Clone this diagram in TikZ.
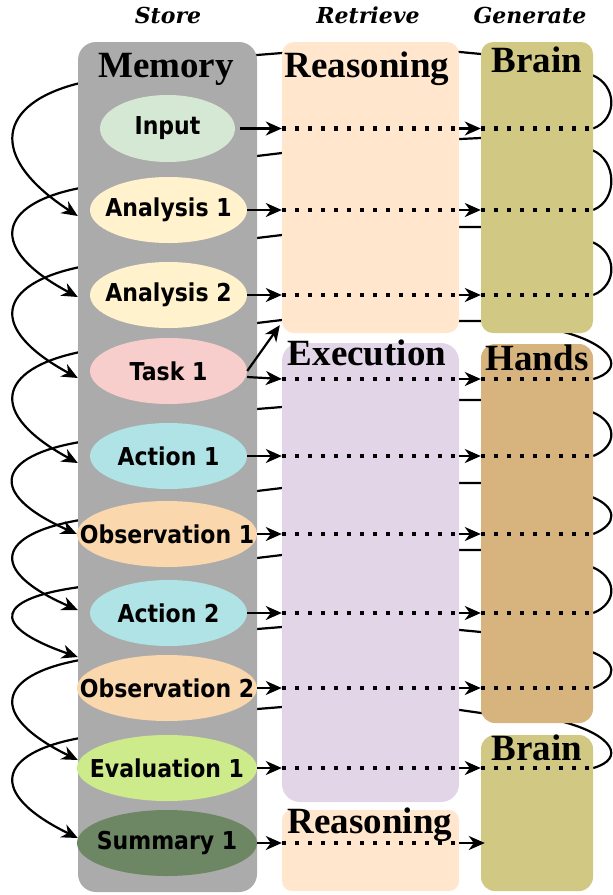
\documentclass[tikz,border=0pt]{standalone}
\usepackage{fontspec}
\setmainfont{Liberation Serif}
\newfontfamily\tagfont{DejaVu Serif}
\newfontfamily\stepfont{DejaVu Sans}
\usetikzlibrary{arrows.meta,positioning,shapes.geometric}

\definecolor{memgray}{HTML}{ABABAB}
\definecolor{reasonpeach}{HTML}{FFE6CC}
\definecolor{execlilac}{HTML}{E1D5E7}
\definecolor{brainolive}{HTML}{D0C883}
\definecolor{handstan}{HTML}{D7B47E}
\definecolor{inputgreen}{HTML}{D5E8D4}
\definecolor{analysisyellow}{HTML}{FFF2CC}
\definecolor{taskred}{HTML}{F8CECC}
\definecolor{actionteal}{HTML}{B0E3E6}
\definecolor{obsorange}{HTML}{FAD7AC}
\definecolor{evalgreen}{HTML}{CDEB8B}
\definecolor{summarygreen}{HTML}{6D8764}

\pgfdeclarelayer{bg}
\pgfsetlayers{bg,main}

% text of an entry does not widen its ellipse
\newcommand{\entry}[1]{\makebox[0pt]{\scalebox{1}[1.12]{#1}}}

\tikzset{
  column/.style={rectangle, rounded corners=12pt, minimum width=112pt, inner sep=0pt},
  coltitle/.style={font=\bfseries\fontsize{37}{37}\selectfont, anchor=base, inner sep=0pt},
  phase/.style={font=\tagfont\bfseries\itshape\fontsize{22}{22}\selectfont, anchor=base, inner sep=0pt},
  stepnode/.style={ellipse, inner sep=0pt, minimum width=157pt, minimum height=66pt,
    font=\stepfont\bfseries\fontsize{22}{22}\selectfont},
  flow/.style={-{Stealth[length=16pt,width=14pt,inset=5pt]}, line width=2.2pt, line join=round},
  dotline/.style={line width=4.5pt, dash pattern=on 4.5pt off 8.5pt}
}

\begin{document}
\begin{tikzpicture}[x=1pt,y=-1pt]
        \useasboundingbox (0,0) rectangle (613,895);

        % Phases
        \node[phase] (store) at (168,23) {Store};
        \node[phase] (retrieve) at (368,23) {Retrieve};
        \node[phase] (generate) at (530,23) {Generate};

        % Columns
        \node[column, fill=memgray, rounded corners=18pt, minimum width=179pt, minimum height=850pt] (memory) at (167.5,467) {};
        \node[column, fill=reasonpeach, minimum width=177pt, minimum height=291pt] (reason1) at (370.5,187.5) {};
        \node[column, fill=execlilac, rounded corners=18pt, minimum width=177pt, minimum height=459pt] (execution) at (370.5,572.5) {};
        \node[column, fill=reasonpeach, rounded corners=10pt, minimum width=177pt, minimum height=81pt] (reason2) at (370.5,850.5) {};
        \node[column, fill=brainolive, minimum height=291pt] (brain1) at (537,187.5) {};
        \node[column, fill=handstan, rounded corners=14pt, minimum height=379pt] (hands) at (537,533.5) {};
        \node[column, fill=brainolive, rounded corners=14pt, minimum height=156pt] (brain2) at (537,813) {};

        % Column titles
        \node[coltitle] (memtitle) at (166,77) {Memory};
        \node[coltitle] (reason1title) at (367,77) {Reasoning};
        \node[coltitle] (brain1title) at (537,72) {Brain};
        \node[coltitle] (exectitle) at (367,365) {Execution};
        \node[coltitle] (handstitle) at (537,370) {Hands};
        \node[coltitle] (brain2title) at (537,760) {Brain};
        \node[coltitle] (reason2title) at (370,833) {Reasoning};

        % Memory entries
        \node[stepnode, fill=inputgreen, minimum width=135pt, minimum height=67pt] (input) at (167.5,128.5) {\entry{Input}};
        \node[stepnode, fill=analysisyellow] (analysis1) at (168.5,210) {\entry{Analysis 1}};
        \node[stepnode, fill=analysisyellow] (analysis2) at (168.5,295) {\entry{Analysis 2}};
        \node[stepnode, fill=taskred] (task1) at (168.5,371) {\entry{Task 1}};
        \node[stepnode, fill=actionteal] (action1) at (168.5,456) {\entry{Action 1}};
        \node[stepnode, fill=obsorange, minimum width=180pt] (obs1) at (167,534) {\entry{Observation 1}};
        \node[stepnode, fill=actionteal] (action2) at (168.5,613) {\entry{Action 2}};
        \node[stepnode, fill=obsorange, minimum width=180pt] (obs2) at (167,688) {\entry{Observation 2}};
        \node[stepnode, fill=evalgreen, minimum width=180pt] (eval1) at (167,768) {\entry{Evaluation 1}};
        \node[stepnode, fill=summarygreen, minimum width=180pt] (summary1) at (167,843) {\entry{Summary 1}};
        \coordinate (taskrow) at ([yshift=-8pt]task1.center);

        % Input row
        \draw[flow] ([xshift=5pt]input.east) -- (input -| reason1.west);
        \draw[dotline] (input -| reason1.west) -- (input -| reason1.east);
        \draw[flow] (input -| reason1.east) -- (input -| brain1.west);
        \draw[dotline] (input -| brain1.west) -- (input -| brain1.east);

        % Analysis rows
        \draw[flow] (analysis1.east) -- (analysis1 -| reason1.west);
        \draw[dotline] (analysis1 -| reason1.west) -- (analysis1 -| reason1.east);
        \draw[flow] (analysis1 -| reason1.east) -- (analysis1 -| brain1.west);
        \draw[dotline] (analysis1 -| brain1.west) -- (analysis1 -| brain1.east);
        \draw[flow] (analysis2.east) -- (analysis2 -| reason1.west);
        \draw[dotline] (analysis2 -| reason1.west) -- (analysis2 -| reason1.east);
        \draw[flow] (analysis2 -| reason1.east) -- (analysis2 -| brain1.west);
        \draw[dotline] (analysis2 -| brain1.west) -- (analysis2 -| brain1.east);

        % Task row, also back to reasoning
        \draw[flow] (task1.east) -- ([shift={(-2pt,8pt)}]reason1.south west);
        \draw[flow] ([yshift=-6pt]task1.east) -- (taskrow -| execution.west);
        \draw[dotline] (taskrow -| execution.west) -- (taskrow -| execution.east);
        \draw[flow] (taskrow -| execution.east) -- (taskrow -| hands.west);
        \draw[dotline] (taskrow -| hands.west) -- (taskrow -| hands.east);

        % Action / observation rows
        \draw[flow] (action1.east) -- (action1 -| execution.west);
        \draw[dotline] (action1 -| execution.west) -- (action1 -| execution.east);
        \draw[flow] (action1 -| execution.east) -- (action1 -| hands.west);
        \draw[dotline] (action1 -| hands.west) -- (action1 -| hands.east);
        \draw[flow] (obs1.east) -- (obs1 -| execution.west);
        \draw[dotline] (obs1 -| execution.west) -- (obs1 -| execution.east);
        \draw[flow] (obs1 -| execution.east) -- (obs1 -| hands.west);
        \draw[dotline] (obs1 -| hands.west) -- (obs1 -| hands.east);
        \draw[flow] (action2.east) -- (action2 -| execution.west);
        \draw[dotline] (action2 -| execution.west) -- (action2 -| execution.east);
        \draw[flow] (action2 -| execution.east) -- (action2 -| hands.west);
        \draw[dotline] (action2 -| hands.west) -- (action2 -| hands.east);
        \draw[flow] (obs2.east) -- (obs2 -| execution.west);
        \draw[dotline] (obs2 -| execution.west) -- (obs2 -| execution.east);
        \draw[flow] (obs2 -| execution.east) -- (obs2 -| hands.west);
        \draw[dotline] (obs2 -| hands.west) -- (obs2 -| hands.east);

        % Evaluation row
        \draw[flow] (eval1.east) -- (eval1 -| execution.west);
        \draw[dotline] (eval1 -| execution.west) -- (eval1 -| execution.east);
        \draw[flow] (eval1 -| execution.east) -- (eval1 -| brain2.west);
        \draw[dotline] (eval1 -| brain2.west) -- (eval1 -| brain2.east);

        % Summary row
        \draw[flow] (summary1.east) -- (summary1 -| reason2.west);
        \draw[dotline] (summary1 -| reason2.west) -- (summary1 -| reason2.east);
        \draw[flow] (summary1 -| reason2.east) -- ([xshift=4pt]summary1 -| brain2.west);

        % Feedback loops, behind the columns
        \begin{pgfonlayer}{bg}
        \draw[flow] (input -| brain1.east) .. controls +(25,-10) and +(25,10) .. (592,75)
            -- (481,54) -- (460,52) -- (282,53) -- (257,55) -- (80,83)
            .. controls +(-82,20) and +(-92,-60) .. ([yshift=-6pt]analysis1 -| memory.west);
        \draw[flow] (analysis1 -| brain1.east) .. controls +(25,-10) and +(25,10) .. (592,150)
            -- (481,138) -- (460,139) -- (282,153) -- (257,156) -- (80,188)
            .. controls +(-82,16) and +(-92,-49) .. ([yshift=-2pt]analysis2 -| memory.west);
        \draw[flow] (analysis2 -| brain1.east) .. controls +(25,-10) and +(25,10) .. (592,242)
            -- (481,227) -- (460,227) -- (282,235) -- (257,238) -- (80,267)
            .. controls +(-82,17) and +(-92,-50) .. ([yshift=-7pt]task1 -| memory.west);
        \draw[flow] (taskrow -| hands.east) .. controls +(32,-9) and +(55,14) .. (560,331)
            -- (481,321) -- (460,321) -- (282,320) -- (257,323) -- (80,352)
            .. controls +(-82,17) and +(-92,-50) .. ([yshift=-7pt]action1 -| memory.west);
        \draw[flow] (action1 -| hands.east) .. controls +(25,-10) and +(25,10) .. (592,412)
            -- (481,400) -- (460,400) -- (282,407) -- (257,409) -- (80,442)
            .. controls +(-82,14) and +(-92,-41) .. (obs1.west);
        \draw[flow] (obs1 -| hands.east) .. controls +(25,-10) and +(25,10) .. (592,497)
            -- (481,483) -- (460,483) -- (282,488) -- (257,491) -- (80,520)
            .. controls +(-82,14) and +(-92,-40) .. ([yshift=3pt]action2 -| memory.west);
        \draw[flow] (action2 -| hands.east) .. controls +(25,-10) and +(25,10) .. (592,567)
            -- (481,550) -- (460,550) -- (282,555) -- (257,558) -- (80,587)
            .. controls +(-82,11) and +(-92,-32) .. ([yshift=31pt]obs2 -| memory.west);
        \draw[flow] (obs2 -| hands.east) .. controls +(25,-10) and +(25,10) .. (592,652)
            -- (481,632) -- (460,630) -- (282,627) -- (257,629) -- (80,660)
            .. controls +(-82,15) and +(-92,-45) .. ([yshift=8pt]eval1 -| memory.west);
        \draw[flow] (eval1 -| brain2.east) .. controls +(32,-9) and +(55,14) .. (560,721)
            -- (481,713) -- (460,710) -- (282,707) -- (257,709) -- (80,738)
            .. controls +(-82,15) and +(-92,-45) .. ([yshift=5pt]summary1 -| memory.west);
        \end{pgfonlayer}
    \end{tikzpicture}
\end{document}
